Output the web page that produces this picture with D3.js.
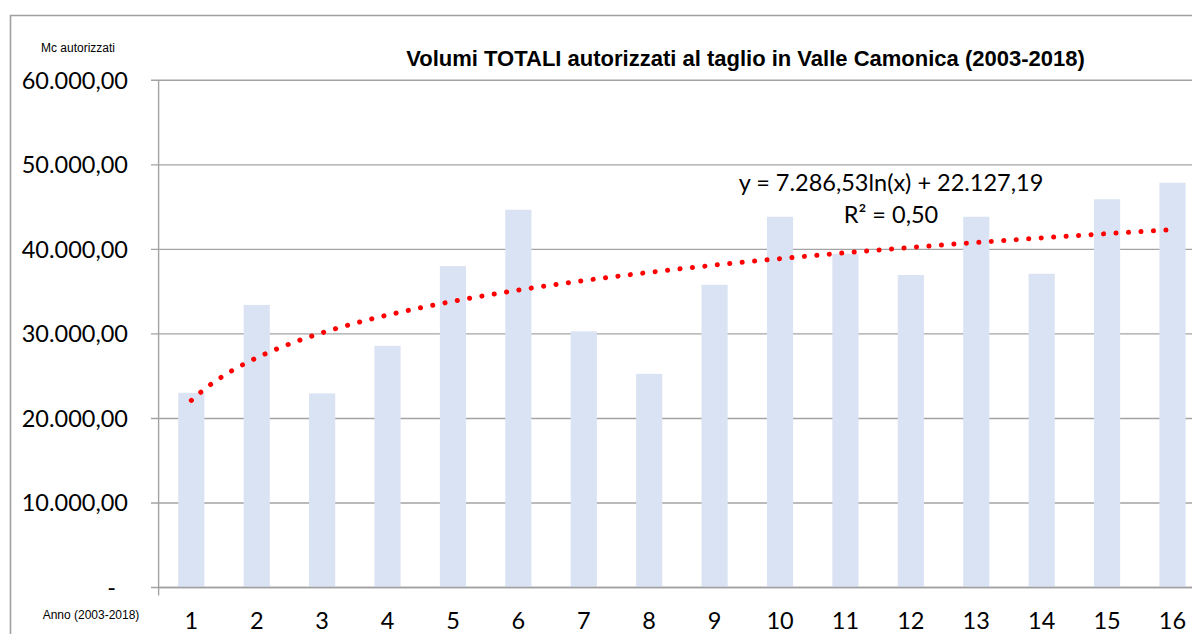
<!DOCTYPE html>
<meta charset="utf-8">
<style>

body { margin: 0; background: #fff; }

.grid line {
  stroke: #a3a3a3;
  stroke-width: 1.4px;
}

.bars rect {
  fill: #dae3f3;
}

.trend {
  fill: none;
  stroke: #ff0000;
  stroke-width: 5px;
  stroke-linecap: round;
  stroke-dasharray: 0.1 12.4;
}

.tick-label {
  font-family: Lato, "Open Sans", sans-serif;
  font-size: 23.5px;
  fill: #000;
}

.small {
  font-family: "Liberation Sans Narrow", "Arial Narrow", "Liberation Sans", sans-serif;
  font-size: 12px;
  fill: #000;
}

</style>
<svg width="1192" height="634"></svg>
<script src="https://d3js.org/d3.v7.min.js"></script>
<script>

// anni 2003-2018 numerati 1..16
var anni = ["1", "2", "3", "4", "5", "6", "7", "8", "9", "10", "11", "12", "13", "14", "15", "16"];

// mc autorizzati
var volumi = [23030, 33430, 22960, 28590, 38020, 44690, 30300, 25280,
              35810, 43860, 39480, 36960, 43860, 37110, 45920, 47880];

var yTicks = [0, 10000, 20000, 30000, 40000, 50000, 60000];

// linea di tendenza logaritmica riportata sul grafico
var trendA = 7286.53,
    trendB = 22127.19;
var trendLabel = ["y = 7.286,53ln(x) + 22.127,19", "R² = 0,50"];

var svg = d3.select("svg"),
    width = +svg.attr("width"),
    height = +svg.attr("height");

var it = d3.formatLocale({decimal: ",", thousands: ".", grouping: [3], currency: ["", "€"]});
var fmt = it.format(",.2f");

var plotLeft = 158.6, plotRight = 1205.2, plotTop = 80.3, plotBottom = 587.5;

var x = d3.scaleBand()
    .domain(anni)
    .range([plotLeft, plotRight])
    .paddingInner(0.6)
    .paddingOuter(0.3);

var y = d3.scaleLinear()
    .domain([0, 60000])
    .range([plotBottom, plotTop]);

// cornice esterna
svg.append("path")
    .attr("d", "M10.5," + height + "V15.5H" + width)
    .attr("fill", "none")
    .attr("stroke", "#a0a0a0")
    .attr("stroke-width", 1.6);

// griglia
var grid = svg.append("g").attr("class", "grid");
grid.selectAll("line")
    .data(yTicks)
    .enter().append("line")
      .attr("x1", 151)
      .attr("x2", width)
      .attr("y1", function(d) { return y(d); })
      .attr("y2", function(d) { return y(d); });

grid.append("line")
    .attr("x1", plotLeft).attr("x2", plotLeft)
    .attr("y1", plotTop).attr("y2", plotBottom + 8);

// barre
svg.append("g")
    .attr("class", "bars")
  .selectAll("rect")
  .data(volumi)
  .enter().append("rect")
    .attr("x", function(d, i) { return x(anni[i]); })
    .attr("width", x.bandwidth())
    .attr("y", function(d) { return y(d); })
    .attr("height", function(d) { return y(0) - y(d); });

// asse x sopra le barre
svg.append("line")
    .attr("x1", plotLeft).attr("x2", width)
    .attr("y1", y(0)).attr("y2", y(0))
    .attr("stroke", "#a0a0a0")
    .attr("stroke-width", 1.6);

// tendenza
var xc = function(i) { return x(anni[i - 1]) + x.bandwidth() / 2; };
var trendPts = d3.range(1, 16.001, 0.1).map(function(t) {
  var i0 = Math.floor(t), f = t - i0;
  var px = i0 < 16 ? xc(i0) + f * (xc(i0 + 1) - xc(i0)) : xc(16);
  return [px, y(trendA * Math.log(t) + trendB)];
});

svg.append("path")
    .attr("class", "trend")
    .attr("d", d3.line()(trendPts));

// etichette asse y
svg.append("g")
  .selectAll("text")
  .data(yTicks)
  .enter().append("text")
    .attr("class", "tick-label")
    .attr("x", function(d) { return d === 0 ? 116 : 128; })
    .attr("y", function(d) { return y(d); })
    .attr("dy", "0.35em")
    .attr("text-anchor", "end")
    .text(function(d) { return d === 0 ? "-" : fmt(d); });

// etichette asse x
svg.append("g")
  .selectAll("text")
  .data(anni)
  .enter().append("text")
    .attr("class", "tick-label")
    .attr("x", function(d) { return x(d) + x.bandwidth() / 2; })
    .attr("y", 629)
    .attr("text-anchor", "middle")
    .text(function(d) { return d; });

// titolo
svg.append("text")
    .attr("x", 745.5)
    .attr("y", 66)
    .attr("text-anchor", "middle")
    .style("font-family", "'Liberation Sans Narrow', 'Arial Narrow', 'Liberation Sans', sans-serif")
    .style("font-weight", "bold")
    .style("font-size", "22px")
    .text("Volumi TOTALI autorizzati al taglio in Valle Camonica (2003-2018)");

svg.append("text")
    .attr("class", "small")
    .attr("x", 78)
    .attr("y", 52)
    .attr("text-anchor", "middle")
    .text("Mc autorizzati");

svg.append("text")
    .attr("class", "small")
    .attr("x", 91)
    .attr("y", 619)
    .attr("text-anchor", "middle")
    .text("Anno (2003-2018)");

// equazione
svg.append("g")
  .selectAll("text")
  .data(trendLabel)
  .enter().append("text")
    .attr("class", "tick-label")
    .attr("x", 891)
    .attr("y", function(d, i) { return 191 + i * 32; })
    .attr("text-anchor", "middle")
    .text(function(d) { return d; });

</script>
